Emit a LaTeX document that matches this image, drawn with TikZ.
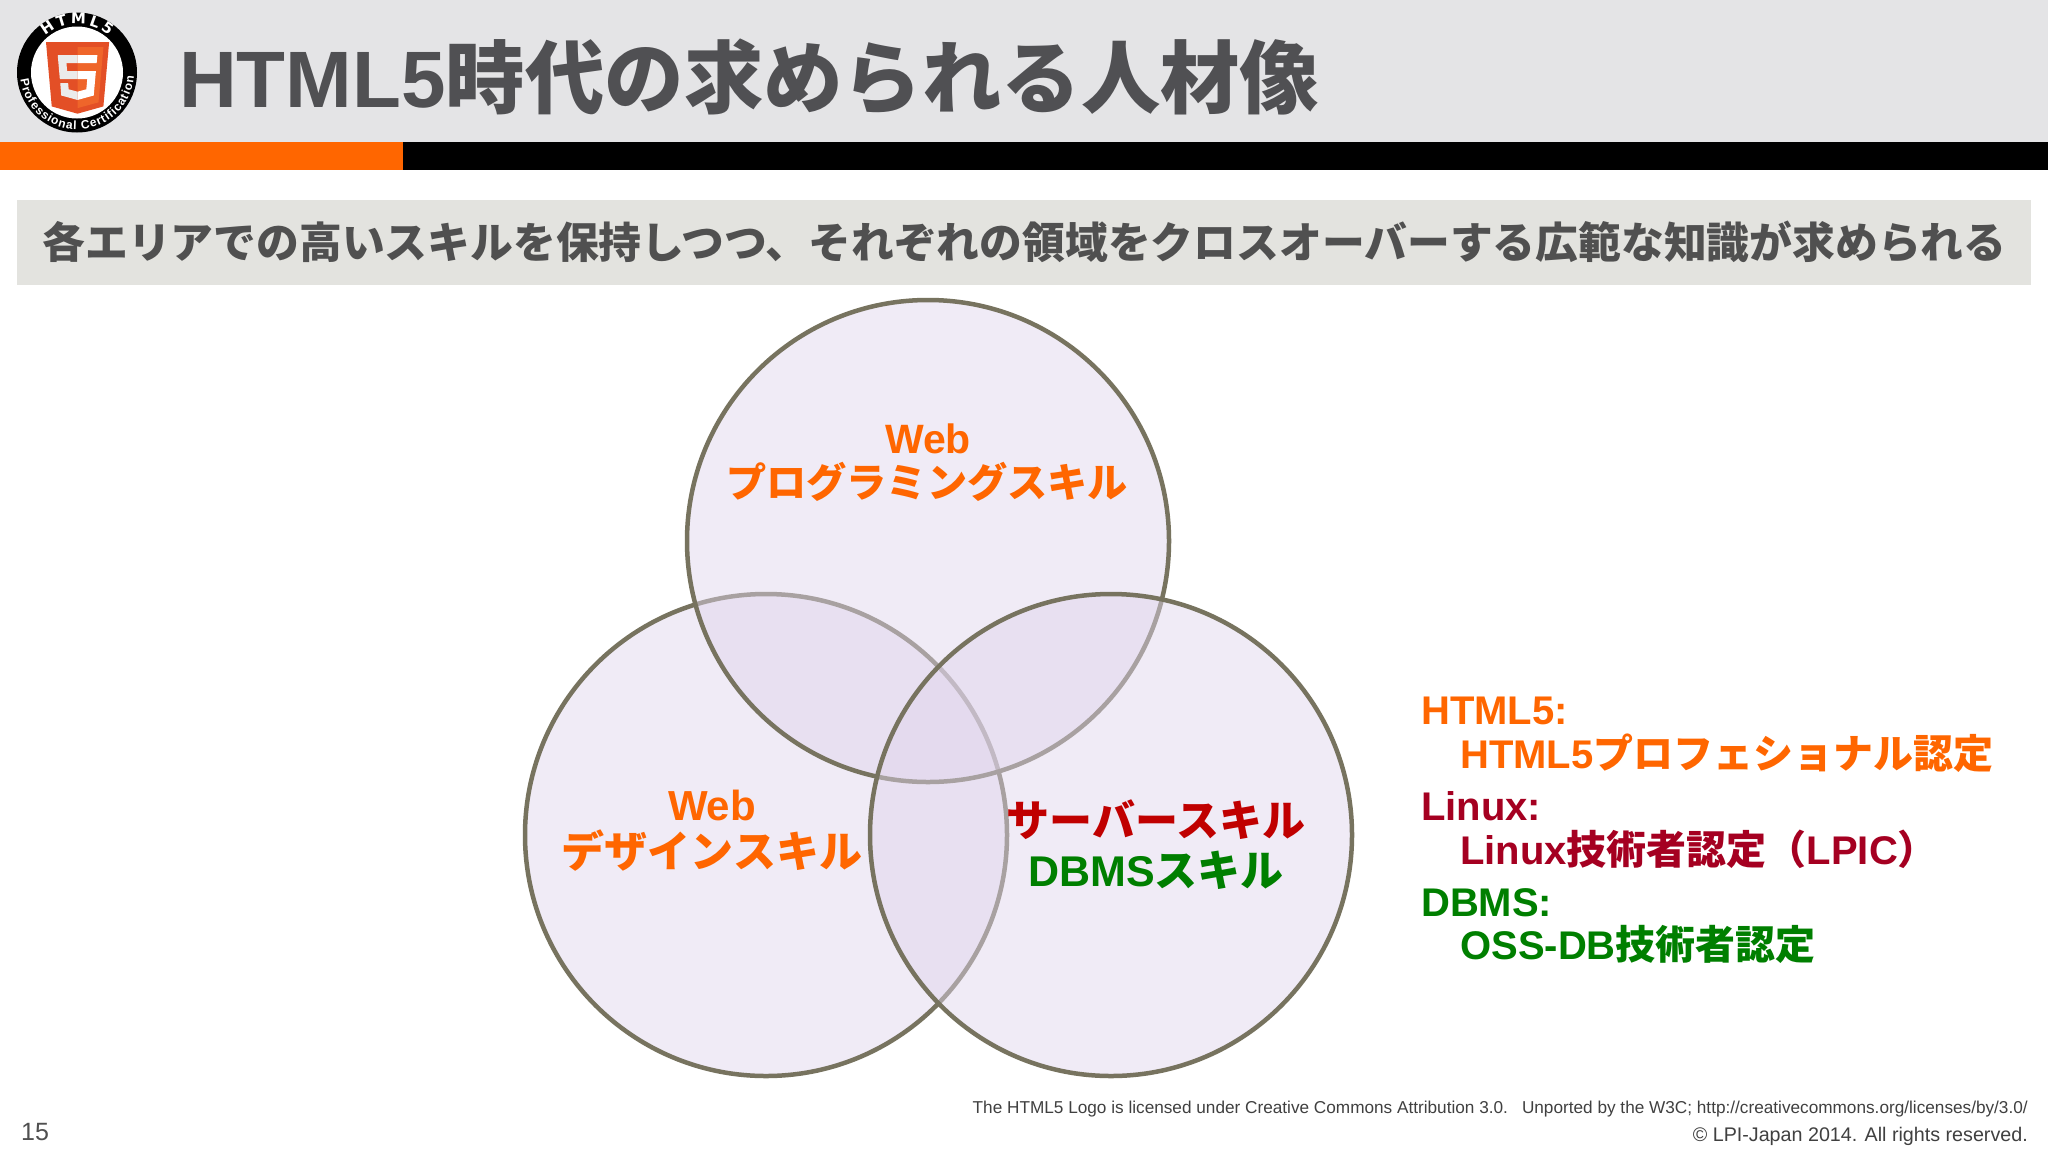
\documentclass[tikz,border=0pt]{standalone}
\usepackage{fontspec}
\setmainfont{Liberation Sans}
\newfontfamily\jp{Noto Sans CJK JP}
\newfontfamily\wide{DejaVu Sans}
\usetikzlibrary{decorations.text}
\definecolor{headbg}{HTML}{E4E4E6}
\definecolor{subbg}{HTML}{E3E3DF}
\definecolor{orangeb}{HTML}{FF6600}
\definecolor{titlec}{HTML}{505053}
\definecolor{subc}{HTML}{505050}
\definecolor{ringc}{HTML}{77735F}
\definecolor{ringfill}{HTML}{E0D5EC}
\definecolor{linuxc}{HTML}{A50021}
\definecolor{srvc}{HTML}{C00000}
\definecolor{dbc}{HTML}{007F00}
\definecolor{footc}{HTML}{404040}
\definecolor{shieldA}{HTML}{E34F26}
\definecolor{shieldB}{HTML}{EF652A}
\definecolor{fiveA}{HTML}{EBEBEB}
\newcommand{\fs}[1]{\fontsize{#1}{#1}\selectfont}
\newcommand{\J}[1]{{\jp #1}}
\tikzset{
  venn/.style={circle,draw=ringc,line width=4.5pt,fill=ringfill,fill opacity=.47,draw opacity=1,minimum size=482pt,inner sep=0pt},
  label40/.style={anchor=base,inner sep=0pt,font=\bfseries\fs{43}},
  legend/.style={anchor=base west,inner sep=0pt,font=\bfseries\fs{40}},
  foot/.style={anchor=base east,inner sep=0pt,text=footc}
}
\begin{document}
\begin{tikzpicture}[x=1pt,y=-1pt]
\useasboundingbox (0,0) rectangle (2048,1152);
\fill[white] (0,0) rectangle (2048,1152);
% header
\fill[headbg] (0,0) rectangle (2048,142);
\fill[orangeb] (0,142) rectangle (403,170);
\fill[black] (403,142) rectangle (2048,170);
% logo
\fill[black] (77,72.5) circle[radius=60pt];
\fill[white] (77,72.5) circle[radius=46pt];
\begin{scope}[shift={(41.8,42)},x=.14pt,y=-.14pt]
\fill[shieldA] (71,460) -- (30,0) -- (481,0) -- (440,460) -- (255,512) -- cycle;
\fill[shieldB] (256,472) -- (405,431) -- (440,37) -- (256,37) -- cycle;
\fill[fiveA] (256,208) -- (181,208) -- (176,150) -- (256,150) -- (256,94) -- (114,94) -- (115,109) -- (129,265) -- (256,265) -- cycle;
\fill[fiveA] (256,355) -- (192,338) -- (188,293) -- (132,293) -- (139,382) -- (255,414) -- (256,414) -- cycle;
\fill[white] (255,208) -- (255,265) -- (325,265) -- (318,338) -- (255,355) -- (255,414) -- (371,382) -- (385,223) -- (387,208) -- cycle;
\fill[white] (255,94) -- (255,150) -- (392,150) -- (397,94) -- cycle;
\end{scope}
\begin{scope}[shift={(77,72.5)},x=1pt,y=1pt]
\path[decorate,decoration={text along path,text align={fit to path},
  text={|\wide\bfseries\fs{15}\color{white}|HTML5}}]
  (131:48.5pt) arc[start angle=131,end angle=49,radius=48.5pt];
\path[decorate,decoration={text along path,text align={fit to path},
  text={|\fs{12}\bfseries\color{white}|Professional Certification}}]
  (187:57pt) arc[start angle=187,end angle=356,radius=57pt];
\end{scope}
% title
\node[anchor=base west,inner sep=0pt,text=titlec,font=\bfseries\fs{80}] (title) at (179,107) {HTML5\J{\fs{79.4}時代の求められる人材像}};
% sub band
\fill[subbg] (17,200) rectangle (2031,285);
\node[anchor=base,inner sep=0pt,text=subc,font=\bfseries\fs{42.8}] (sub) at (1024.5,258) {\J{各エリアでの高いスキルを保持しつつ、それぞれの領域をクロスオーバーする広範な知識が求められる}};
% venn
\node[venn] (vleft) at (766,835) {};
\node[venn] (vtop) at (928,541) {};
\node[venn] (vright) at (1111,835) {};
% labels
\node[label40,text=orangeb,font=\bfseries\fs{41}] (t1) at (928,453) {Web};
\node[label40,text=orangeb,font=\bfseries\fs{40.2}] (t2) at (927,497) {\J{プログラミングスキル}};
\node[label40,text=orangeb,font=\bfseries\fs{42}] (l1) at (712,820) {Web};
\node[label40,text=orangeb] (l2) at (712,867) {\J{デザインスキル}};
\node[label40,text=srvc] (r1) at (1156,836) {\J{サーバースキル}};
\node[label40,text=dbc] (r2) at (1156,886) {DBMS\J{スキル}};
% legend
\node[legend,text=orangeb] (a1) at (1421,724) {HTML5:};
\node[legend,text=orangeb] (a2) at (1460,768) {HTML5\J{プロフェショナル認定}};
\node[legend,text=linuxc] (b1) at (1421,820) {Linux:};
\node[legend,text=linuxc] (b2) at (1460,864) {Linux\J{技術者認定（}LPIC\J{）}};
\node[legend,text=dbc] (c1) at (1421,916) {DBMS:};
\node[legend,text=dbc] (c2) at (1460,959) {OSS-DB\J{技術者認定}};
% footer
\node[foot,font=\fs{17.2}] (f1) at (2028,1113) {The HTML5 Logo is licensed under Creative Commons Attribution 3.0.\hspace{14pt}Unported by the W3C; http://creativecommons.org/licenses/by/3.0/};
\node[foot,font=\fs{19.7}] (f2) at (2028,1141) {© LPI-Japan 2014. All rights reserved.};
\node[anchor=base west,inner sep=0pt,text=subc,font=\fs{25}] (pg) at (21,1140) {15};
\end{tikzpicture}
\end{document}
